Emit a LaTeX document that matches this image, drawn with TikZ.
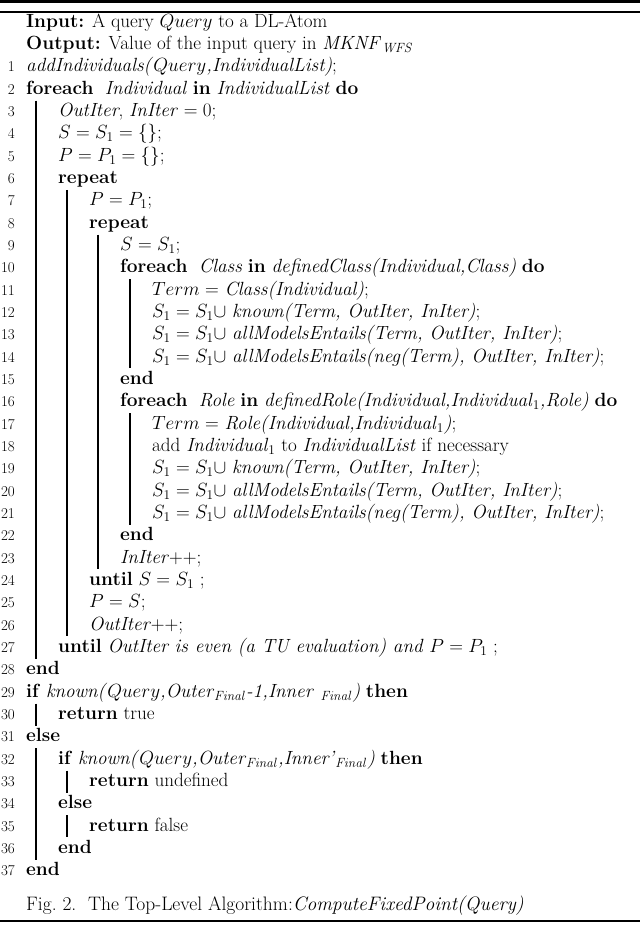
\documentclass[tikz,border=0pt]{standalone}
\usepackage{fix-cm}
\newcommand\FS{\fontsize{19.1}{22}\selectfont}
\tikzset{
  num/.style={anchor=base east,inner sep=0pt,font=\fontsize{15}{18}\selectfont},
  txt/.style={anchor=base west,inner sep=0pt,font=\FS},
  bar/.style={line width=1.5pt},
  rule/.style={line width=#1}
}
\newcommand\AL[3]{\node[num] (n#1) at (15,{72+(#1-1)*22.33}) {#1};
  \node[txt] (t#1) at (#2,{72+(#1-1)*22.33}) {#3};}
\newcommand\VB[3]{\draw[bar] (#1,{72+(#2-1)*22.33-16}) -- (#1,{72+(#3-1)*22.33+6});}
\begin{document}
\begin{tikzpicture}[x=1pt,y=-1pt]
\useasboundingbox (0,0) rectangle (640,925);
\draw[rule=3.4pt] (0,1.7) -- (640,1.7);
\draw[rule=1.6pt] (0,12) -- (640,12);
\draw[rule=1.2pt] (0,921) -- (640,921);
\node[txt] (in) at (26,27.5) {\textbf{Input:} A query $Query$ to a DL-Atom};
\node[txt] (out) at (26,49.8) {\textbf{Output:} Value of the input query in $\mathit{MKNF}_{\mathit{WFS}}$};
\AL{1}{26}{\textit{addIndividuals(}$Query$\textit{,IndividualList)};}
\AL{2}{26}{\textbf{foreach}\ \ \textit{Individual} \textbf{in} \textit{IndividualList} \textbf{do}}
\AL{3}{58}{\textit{OutIter}, \textit{InIter} $=0$;}
\AL{4}{58}{$S=S_1=\{\}$;}
\AL{5}{58}{$P=P_1=\{\}$;}
\AL{6}{58}{\textbf{repeat}}
\AL{7}{89}{$P=P_1$;}
\AL{8}{89}{\textbf{repeat}}
\AL{9}{120}{$S=S_1$;}
\AL{10}{120}{\textbf{foreach}\ \ \textit{Class} \textbf{in} \textit{definedClass(Individual,Class)} \textbf{do}}
\AL{11}{152}{$Term=$ \textit{Class(Individual)};}
\AL{12}{152}{$S_1=S_1\cup$ \textit{known(Term, OutIter, InIter)};}
\AL{13}{152}{$S_1=S_1\cup$ \textit{allModelsEntails(Term, OutIter, InIter)};}
\AL{14}{152}{$S_1=S_1\cup$ \textit{allModelsEntails(neg(Term), OutIter, InIter)};}
\AL{15}{120}{\textbf{end}}
\AL{16}{120}{\textbf{foreach}\ \ \textit{Role} \textbf{in} \textit{definedRole(Individual,Individual}$_1$\textit{,Role)} \textbf{do}}
\AL{17}{152}{$Term=$ \textit{Role(Individual,Individual}$_1$\textit{)};}
\AL{18}{152}{add \textit{Individual}$_1$ to \textit{IndividualList} if necessary}
\AL{19}{152}{$S_1=S_1\cup$ \textit{known(Term, OutIter, InIter)};}
\AL{20}{152}{$S_1=S_1\cup$ \textit{allModelsEntails(Term, OutIter, InIter)};}
\AL{21}{152}{$S_1=S_1\cup$ \textit{allModelsEntails(neg(Term), OutIter, InIter)};}
\AL{22}{120}{\textbf{end}}
\AL{23}{120}{\textit{InIter}++;}
\AL{24}{89}{\textbf{until} $S=S_1$ ;}
\AL{25}{89}{$P=S$;}
\AL{26}{89}{\textit{OutIter}++;}
\AL{27}{58}{\textbf{until} \textit{OutIter is even (a TU evaluation) and} $P=P_1$ ;}
\AL{28}{26}{\textbf{end}}
\AL{29}{26}{\textbf{if} \textit{known(}$Query$\textit{,Outer}$_{\mathit{Final}}$\textit{-1,Inner }$_{\mathit{Final}}$\textit{)} \textbf{then}}
\AL{30}{58}{\textbf{return} true}
\AL{31}{26}{\textbf{else}}
\AL{32}{58}{\textbf{if} \textit{known(}$Query$\textit{,Outer}$_{\mathit{Final}}$\textit{,Inner'}$_{\mathit{Final}}$\textit{)} \textbf{then}}
\AL{33}{89}{\textbf{return} undefined}
\AL{34}{58}{\textbf{else}}
\AL{35}{89}{\textbf{return} false}
\AL{36}{58}{\textbf{end}}
\AL{37}{26}{\textbf{end}}
\VB{36}{3}{27}
\VB{67}{7}{26}
\VB{98}{9}{23}
\VB{130}{11}{14}
\VB{130}{17}{21}
\VB{36}{30}{30}
\VB{36}{32}{36}
\VB{67}{33}{33}
\VB{67}{35}{35}
\node[txt,font=\fontsize{19.5}{22}\selectfont] (cap) at (26,910) {Fig.~2.\ \ The Top-Level Algorithm:\textit{ComputeFixedPoint(Query)}};
\end{tikzpicture}
\end{document}
